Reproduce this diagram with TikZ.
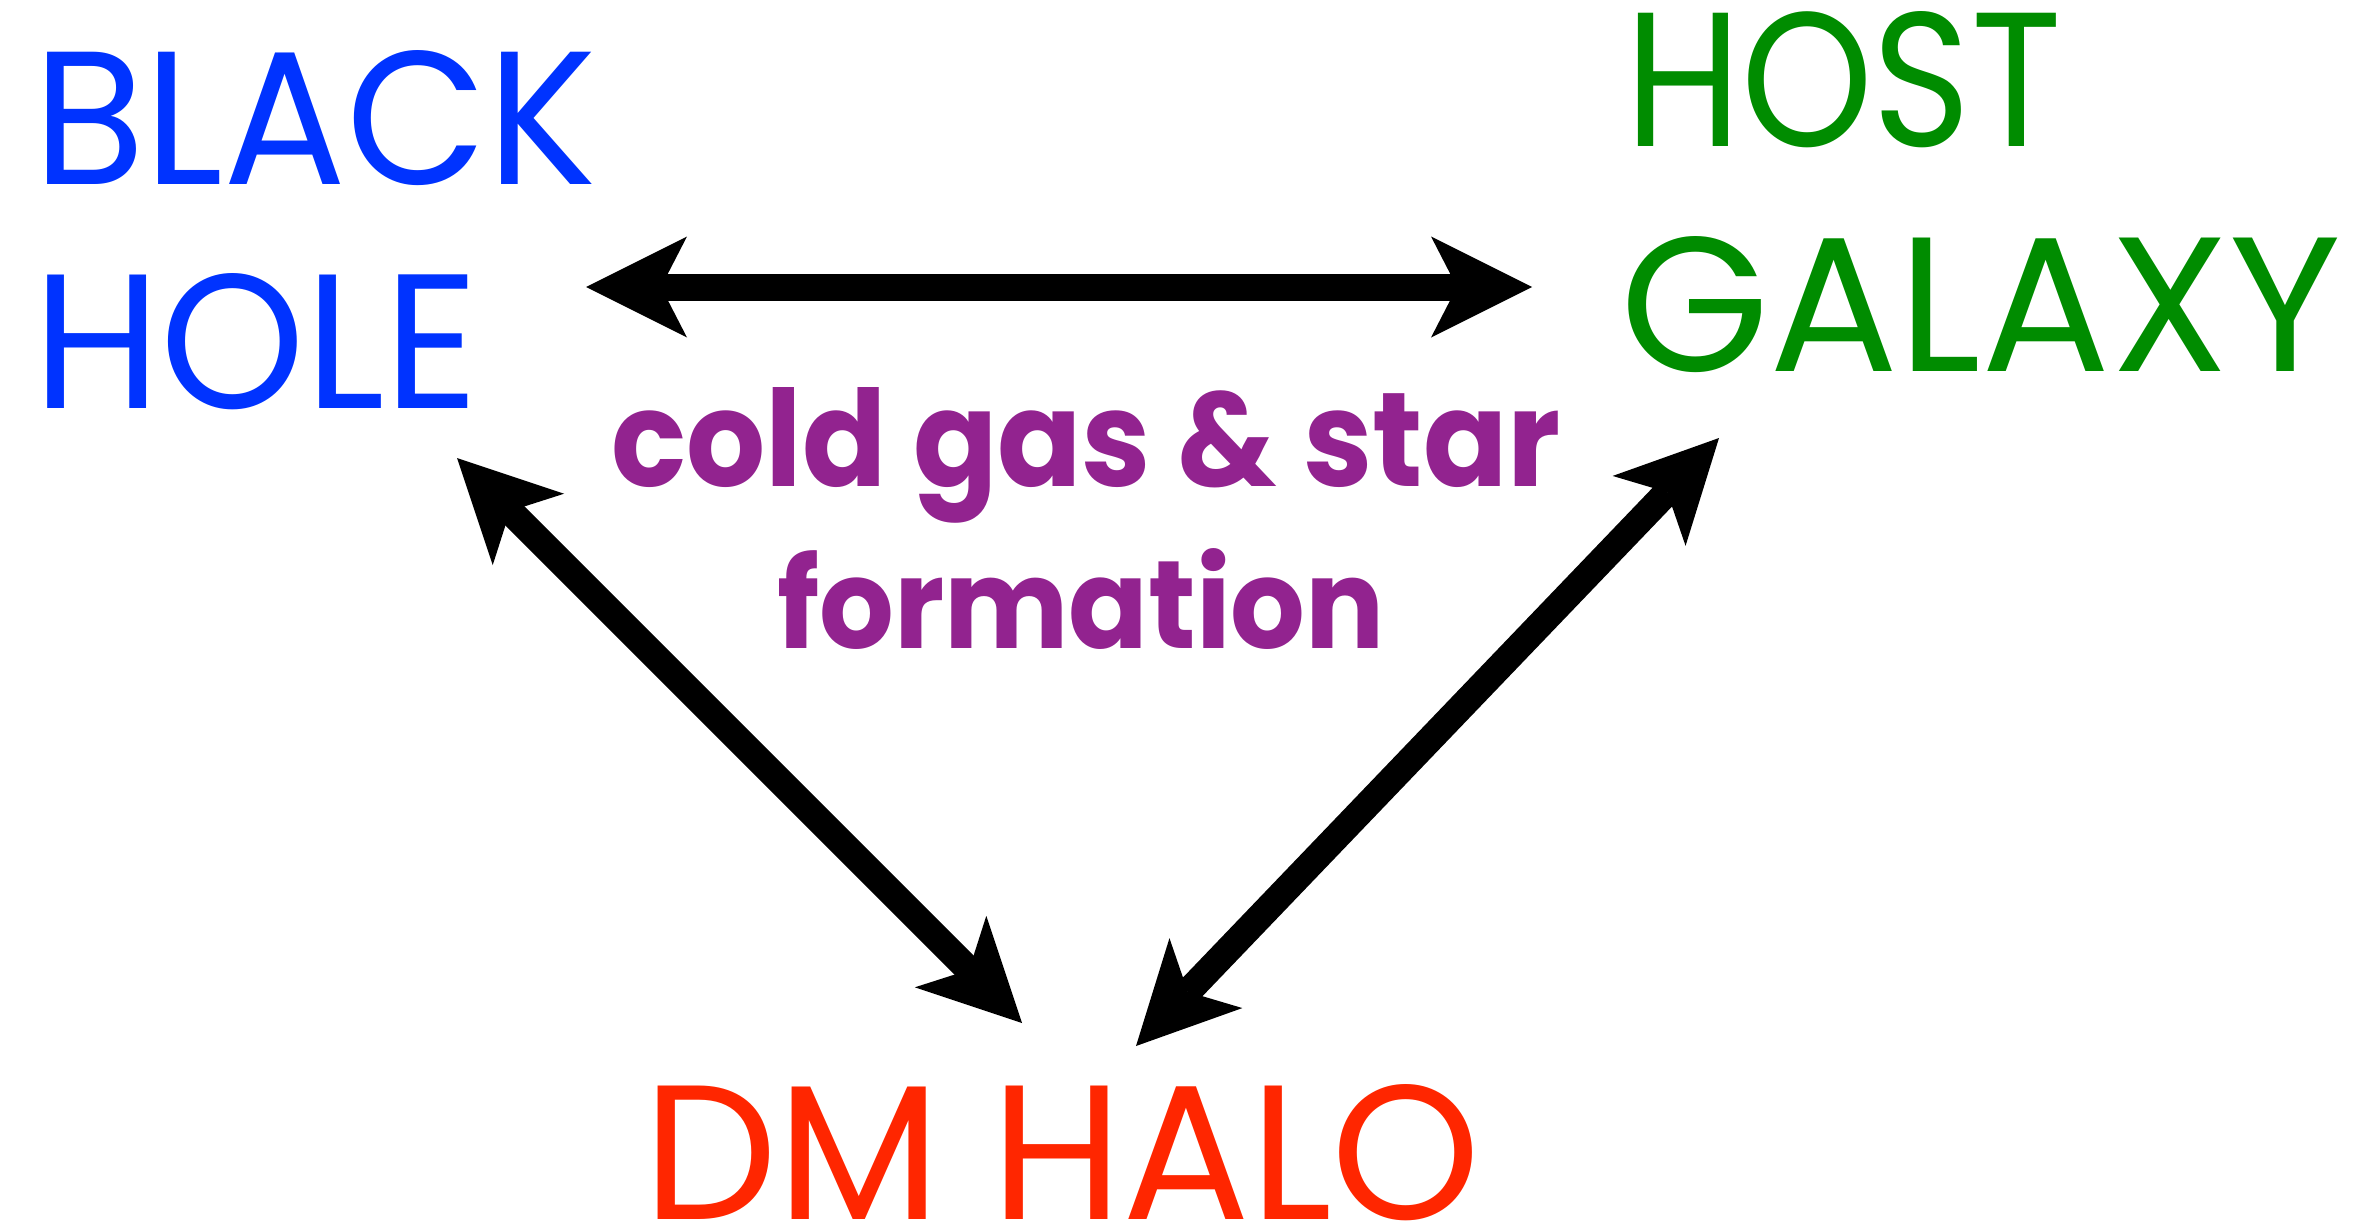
\documentclass[tikz,border=0pt]{standalone}
\usepackage{fontspec}
\usepackage{graphicx}
\setmainfont{Poppins}
\usetikzlibrary{arrows.meta}
\definecolor{bhblue}{RGB}{0,51,255}
\definecolor{hggreen}{RGB}{0,140,0}
\definecolor{dmred}{RGB}{255,38,0}
\definecolor{sfpurple}{RGB}{146,35,143}
\newcommand{\fitword}[3]{\resizebox{#1pt}{#2pt}{#3}}
\begin{document}
\begin{tikzpicture}[x=1pt,y=-1pt,
  lbl/.style={inner sep=0pt,outer sep=0pt,anchor=base west},
  capword/.style={lbl,font=\fontsize{190}{200}\selectfont},
  sfword/.style={lbl,text=sfpurple,font=\fontsize{134}{140}\selectfont\bfseries},
  >={Stealth[length=101pt,width=101pt,inset=26pt,line width=0pt]},
  link/.style={line width=27pt,<->,black}]
\useasboundingbox (0,0) rectangle (2365,1225);
% labels
\node[capword,text=bhblue] (bh1) at (33,184) {\fitword{564}{134}{BLACK}};
\node[capword,text=bhblue] (bh2) at (33,408) {\fitword{446}{135}{HOLE}};
\node[capword,text=hggreen] (hg1) at (1625,147) {\fitword{437}{135}{HOST}};
\node[capword,text=hggreen] (hg2) at (1620,371) {\fitword{721}{135}{GALAXY}};
\node[capword,text=dmred] (dm) at (643,1219) {\fitword{838}{135}{DM HALO}};
\node[sfword] (sf1) at (611,486) {\fitword{950}{99}{cold gas \& star}};
\node[sfword] (sf2) at (777,648) {\fitword{608}{100}{formation}};
% connector ends
\coordinate (bhE) at (586,287);
\coordinate (hgW) at (1532,287);
\coordinate (bhS) at (457,458);
\coordinate (dmNW) at (1022,1023);
\coordinate (hgS) at (1719,438);
\coordinate (dmNE) at (1136,1046);
% connectors
\draw[link] (bhE) -- (hgW);
\draw[link] (bhS) -- (dmNW);
\draw[link] (hgS) -- (dmNE);
\end{tikzpicture}
\end{document}
